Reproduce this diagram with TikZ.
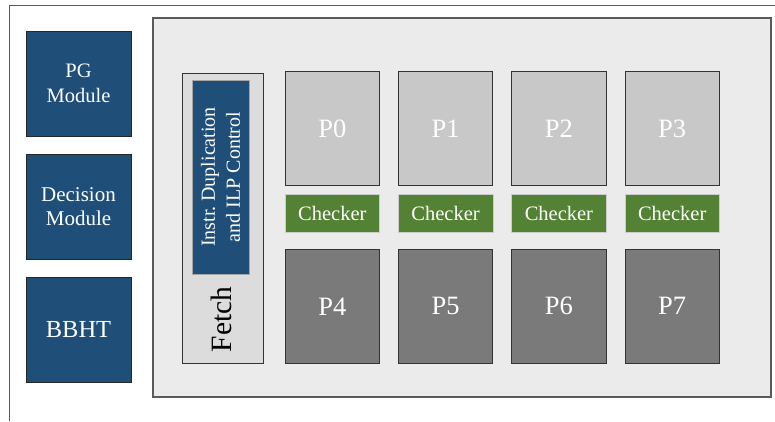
\documentclass[tikz,border=0pt]{standalone}
\usepackage{fontspec}
\setmainfont{Liberation Serif}
\definecolor{modblue}{HTML}{1F4E79}
\definecolor{chkgreen}{HTML}{548235}
\definecolor{plight}{HTML}{C8C8C8}
\definecolor{pdark}{HTML}{7A7A7A}
\definecolor{panelgray}{HTML}{EBEBEB}
\definecolor{fetchgray}{HTML}{DCDCDC}
\definecolor{framegray}{HTML}{5A5A5A}
\begin{document}
\begin{tikzpicture}[x=1pt,y=-1pt,
  box/.style={rectangle, inner sep=0pt, text=white},
  module/.style={box, draw=black!85, line width=0.8pt, fill=modblue,
    minimum width=105pt, minimum height=105pt, align=center},
  core/.style={box, draw=black!80, line width=0.8pt,
    minimum width=94.5pt, minimum height=114pt,
    font=\rmfamily\fontsize{26.5}{30}\selectfont},
  corelight/.style={core, fill=plight},
  coredark/.style={core, fill=pdark},
  checker/.style={box, draw=black!20, line width=0.6pt, fill=chkgreen,
    minimum width=94.5pt, minimum height=38.4pt,
    font=\rmfamily\fontsize{20.5}{23}\selectfont}
]
\useasboundingbox (0,0) rectangle (775,421);

% outer frame (top and left edges only)
\coordinate (ftr) at (775,5.3);
\coordinate (ftl) at (9,5.3);
\coordinate (fbl) at (9,421);
\draw[framegray, line width=0.9pt] (ftr) -- (ftl) -- (fbl);

% side modules
\node[module, font=\rmfamily\fontsize{20.5}{24.5}\selectfont] (pg) at (78.5,83.5) {PG\\Module};
\node[module, font=\rmfamily\fontsize{21}{24.5}\selectfont] (dec) at (78.5,206.5) {Decision\\Module};
\node[module, font=\rmfamily\fontsize{24.5}{28}\selectfont] (bbht) at (78.5,329.5) {BBHT};

% core panel
\node[rectangle, draw=framegray, line width=1.6pt, fill=panelgray,
  minimum width=617.5pt, minimum height=379pt, inner sep=0pt] (panel) at (462,207.5) {};

% fetch stage
\node[rectangle, draw=black!80, line width=0.8pt, fill=fetchgray,
  minimum width=81pt, minimum height=290pt, inner sep=0pt] (fetch) at (222.5,218) {};
\node[rectangle, draw=black!35, line width=0.6pt, fill=modblue,
  minimum width=57pt, minimum height=194pt, inner sep=0pt] (ilp) at (220.5,177) {};
\node[rotate=90, text=white, align=center, inner sep=0pt,
  font=\rmfamily\fontsize{20}{25}\selectfont] (ilptext) at (ilp.center) {Instr.\ Duplication\\and ILP Control};
\node[rotate=90, inner sep=0pt, font=\rmfamily\fontsize{29.5}{33}\selectfont] (fetchtext) at (221,319.5) {Fetch};

% cores and checkers
\foreach \i/\x in {0/332.3,1/445.6,2/558.9,3/672.2}{
  \node[corelight] (p\i) at (\x,128.5) {P\i};
  \node[checker] (c\i) at (\x,213.5) {Checker};
}
\foreach \i/\x in {4/332.3,5/445.6,6/558.9,7/672.2}{
  \node[coredark] (p\i) at (\x,306.3) {P\i};
}
\end{tikzpicture}
\end{document}
